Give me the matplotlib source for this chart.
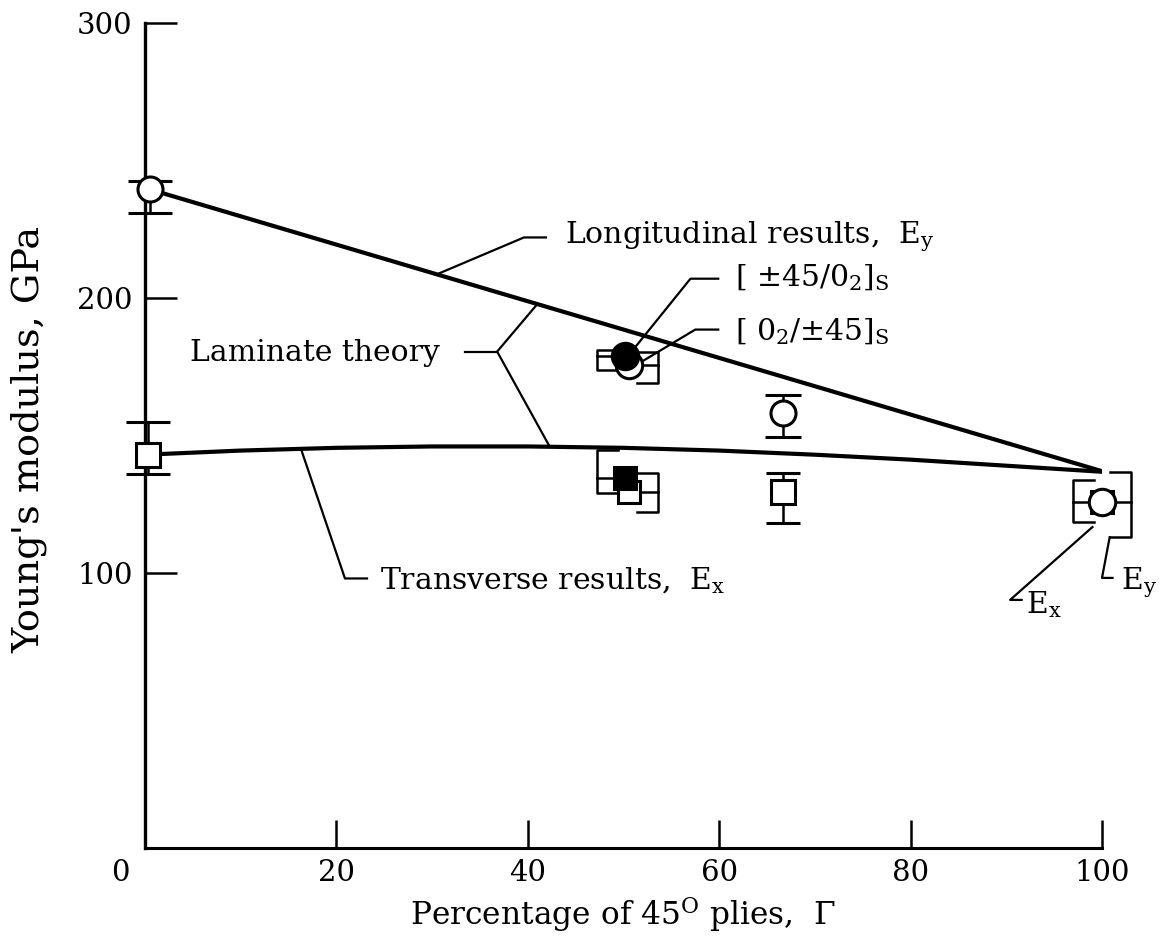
import numpy as np
import matplotlib
matplotlib.use("Agg")
from matplotlib import pyplot as plt
import matplotlib.transforms as mtransforms

plt.rcParams['font.family'] = ['DejaVu Serif']
plt.rcParams['mathtext.fontset'] = 'dejavuserif'

# laminate theory curves
theory_long_x = [0, 100]
theory_long_y = [240, 137]
theory_trans_x = [0, 10, 20, 30, 40, 50, 60, 70, 80, 90, 100]
theory_trans_y = [143.0, 144.5, 145.5, 146.0, 146.0, 145.5, 144.5, 143.0, 141.2, 139.0, 136.8]

# measured points with ordinary error bars
long_x = [0.5, 66.7]
long_y = [239.5, 158.0]
long_lo = [231.0, 149.5]
long_hi = [242.5, 164.7]
long_cap = [16, 13]

trans_x = [0.3, 66.7]
trans_y = [143.0, 129.5]
trans_lo = [136.0, 118.0]
trans_hi = [155.0, 136.4]
trans_cap = [16, 12]

# measured points whose scatter is drawn as a side bracket
brk_x = [50.2, 50.6, 50.2, 50.6, 100.0, 100.0]
brk_y = [179.0, 175.5, 134.5, 129.5, 125.8, 125.8]
brk_lo = [173.8, 169.0, 129.0, 122.0, 118.5, 113.0]
brk_hi = [181.0, 180.5, 144.7, 136.4, 133.8, 136.7]
brk_marker = ['o', 'o', 's', 's', 's', 'o']
brk_filled = [True, False, True, False, False, False]
brk_side = [-1, 1, -1, 1, -1, 1]

x_ticks = [0, 20, 40, 60, 80, 100]
y_ticks = [100, 200, 300]

fig = plt.figure(figsize=(11.68, 9.40), dpi=100)
ax = fig.add_axes([0.1241, 0.0979, 0.8194, 0.8777])
ax.set_xlim(0, 100)
ax.set_ylim(0, 300)

ax.spines['top'].set_visible(False)
ax.spines['right'].set_visible(False)
ax.spines['left'].set_linewidth(2.4)
ax.spines['bottom'].set_linewidth(2.2)

ax.set_xticks(x_ticks)
ax.set_xticklabels([str(v) for v in x_ticks])
ax.set_yticks(y_ticks)
ax.set_yticklabels([str(v) for v in y_ticks])
ax.tick_params(axis='x', direction='in', length=20, width=1.8, labelsize=21, pad=8)
ax.tick_params(axis='y', direction='in', length=23, width=1.8, labelsize=21, pad=9)
t0 = ax.xaxis.get_major_ticks()[0]
t0.tick1line.set_visible(False)
t0.label1.set_transform(t0.label1.get_transform() +
                        mtransforms.ScaledTranslation(-0.25, 0, fig.dpi_scale_trans))

ax.set_xlabel(r"Percentage of 45$^{\mathrm{O}}$ plies,  $\Gamma$", fontsize=22.5, labelpad=6)
ax.set_ylabel("Young's modulus, GPa", fontsize=27.5)
ax.yaxis.set_label_coords(-0.102, 0.495)

# theory lines
ax.plot(theory_long_x, theory_long_y, color='black', lw=3.0, zorder=2)
ax.plot(theory_trans_x, theory_trans_y, color='black', lw=3.0, zorder=2)

lw_e = 1.8
ms = 18
for i in range(len(long_x)):
    ax.errorbar(long_x[i], long_y[i],
                yerr=[[long_y[i] - long_lo[i]], [long_hi[i] - long_y[i]]],
                fmt='o', ms=ms, mfc='white', mec='black', mew=2.2, ecolor='black',
                elinewidth=lw_e, capsize=long_cap[i], capthick=lw_e, zorder=4, clip_on=False)
for i in range(len(trans_x)):
    ax.errorbar(trans_x[i], trans_y[i],
                yerr=[[trans_y[i] - trans_lo[i]], [trans_hi[i] - trans_y[i]]],
                fmt='s', ms=ms - 1, mfc='white', mec='black', mew=2.2, ecolor='black',
                elinewidth=lw_e, capsize=trans_cap[i], capthick=lw_e, zorder=4, clip_on=False)

# bracket-style scatter bands
for i in range(len(brk_x)):
    x, y, s = brk_x[i], brk_y[i], brk_side[i]
    xb = x + s * 3.0
    xa = xb - s * 2.2
    ax.plot([xa, xb, xb, xa], [brk_hi[i], brk_hi[i], brk_lo[i], brk_lo[i]],
            color='black', lw=lw_e, zorder=3, clip_on=False)
    ax.plot([xb, x + s * 1.2], [y, y], color='black', lw=lw_e, zorder=3, clip_on=False)
for i in range(len(brk_x)):
    fc = 'black' if brk_filled[i] else 'white'
    size = ms + 1 if brk_marker[i] == 'o' else ms - 2
    ax.plot(brk_x[i], brk_y[i], marker=brk_marker[i], ms=size, mfc=fc, mec='black',
            mew=2.2, ls='none', zorder=6 if brk_filled[i] else 5, clip_on=False)

# leader lines and labels
lk = dict(color='black', lw=1.6, zorder=3, clip_on=False)
tk = dict(fontsize=21.5, va='baseline', ha='left')

y_up = lambda x: np.interp(x, theory_long_x, theory_long_y)
y_lo = lambda x: np.interp(x, theory_trans_x, theory_trans_y)

ax.plot([30.5, 39.6, 41.9], [y_up(30.5), 222, 222], **lk)
ax.text(43.9, 220.0, r"Longitudinal results,  E$_{\mathrm{y}}$", **tk)

ax.plot([51.2, 57.0, 59.9], [182, 207, 207], **lk)
ax.text(61.7, 204.3, r"[ $\pm$45/0$_{2}$]$_{\mathrm{S}}$", **tk)

ax.plot([51.7, 57.5, 59.9], [176.4, 188.5, 188.5], **lk)
ax.text(61.7, 184.8, r"[ 0$_{2}$/$\pm$45]$_{\mathrm{S}}$", **tk)

ax.text(4.7, 177.0, "Laminate theory", **tk)
ax.plot([33.4, 36.8], [180.5, 180.5], **lk)
ax.plot([41.0, 36.8, 42.3], [y_up(41.0), 180.5, y_lo(42.3)], **lk)

ax.plot([16.3, 20.9, 23.2], [y_lo(16.3), 98, 98], **lk)
ax.text(24.6, 94.0, r"Transverse results,  E$_{\mathrm{x}}$", **tk)

ax.plot([99.0, 90.4, 91.6], [116.7, 90.2, 90.2], **lk)
ax.text(92.1, 85.5, r"E$_{\mathrm{x}}$", **tk)

ax.plot([100.8, 100.0, 101.1], [113, 98.2, 98.2], **lk)
ax.text(102.0, 94.0, r"E$_{\mathrm{y}}$", **tk)

fig.savefig("out.png", dpi=100)
